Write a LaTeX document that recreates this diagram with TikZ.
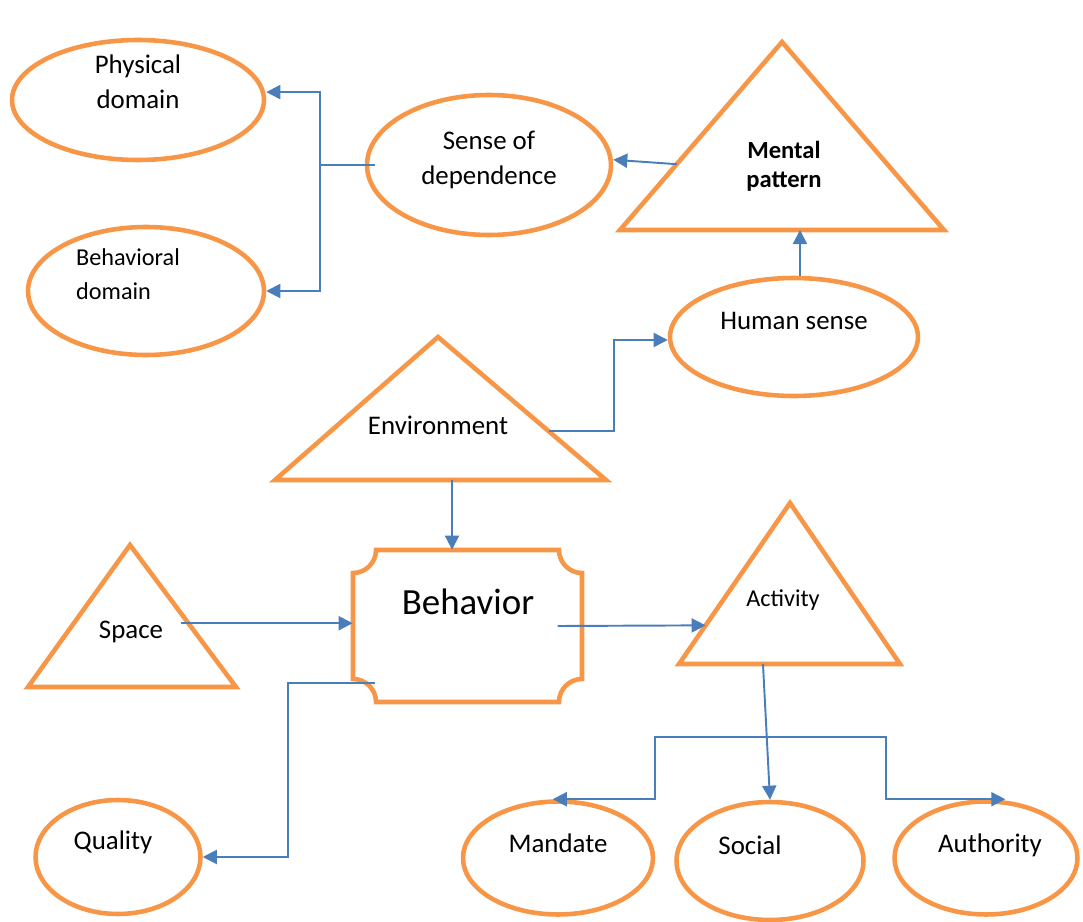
\documentclass[tikz,border=0pt]{standalone}
\usepackage{fontspec}
\setmainfont{Carlito}
\usetikzlibrary{shapes.geometric,arrows.meta,calc}
\definecolor{shapeorange}{HTML}{F79646}
\definecolor{linkblue}{HTML}{4A7EBB}

\begin{document}
\begin{tikzpicture}[x = 0.02cm, y = -0.02cm,
  oval/.style = {ellipse, draw = shapeorange, line width = 2.6pt, inner sep = 0pt},
  tri/.style = {draw = shapeorange, line width = 2.6pt, line join = miter},
  txt/.style = {align = center, font = \fontsize{15.3}{20}\selectfont, inner sep = 0pt},
  small/.style = {align = left, font = \fontsize{13.8}{19}\selectfont, inner sep = 0pt},
  link/.style = {draw = linkblue, line width = 1.1pt},
  arr/.style = {link, -{Triangle[length = 8pt, width = 8pt]}}]

\useasboundingbox (0,0) rectangle (1083,922);

% ellipses
\node[oval, minimum width = 5.04cm, minimum height = 2.4cm] (physical) at (138,100) {};
\node[oval, minimum width = 4.72cm, minimum height = 2.56cm] (behavioral) at (146,291) {};
\node[oval, minimum width = 4.88cm, minimum height = 2.8cm] (sense) at (489,165) {};
\node[oval, minimum width = 4.96cm, minimum height = 2.36cm] (human) at (794,337) {};
\node[oval, minimum width = 3.3cm, minimum height = 2.28cm] (quality) at (118,857) {};
\node[oval, minimum width = 3.8cm, minimum height = 2.26cm] (mandate) at (558,858) {};
\node[oval, minimum width = 3.74cm, minimum height = 2.36cm] (social) at (770,861) {};
\node[oval, minimum width = 3.66cm, minimum height = 2.26cm] (authority) at (986,858) {};

\node[txt] (physicaltxt) at (138,82) {Physical\\domain};
\node[small] (behavioraltxt) at (128,274) {Behavioral\\domain};
\node[txt] (sensetxt) at (489,160) {Sense of\\dependence};
\node[txt] (humantxt) at (794,321) {Human sense};
\node[txt] (qualitytxt) at (113,842) {Quality};
\node[txt] (mandatetxt) at (558,843) {Mandate};
\node[txt] (socialtxt) at (750,845) {Social};
\node[txt] (authoritytxt) at (990,845) {Authority};

% triangles
\coordinate (mentalT) at (782,42);
\coordinate (mentalL) at (620,230);
\coordinate (mentalR) at (944,230);
\draw[tri] (mentalT) -- (mentalR) -- (mentalL) -- cycle;
\node[txt, font = \bfseries\fontsize{14}{16.5}\selectfont] (mental) at (784,166) {Mental\\pattern};

\coordinate (envT) at (438,337);
\coordinate (envL) at (275,480);
\coordinate (envR) at (606,480);
\draw[tri] (envT) -- (envR) -- (envL) -- cycle;
\node[txt] (environment) at (438,425) {Environment};

\coordinate (spaceT) at (130,545);
\coordinate (spaceL) at (28,687);
\coordinate (spaceR) at (236,687);
\draw[tri] (spaceT) -- (spaceR) -- (spaceL) -- cycle;
\node[txt] (space) at (131,632) {Space};

\coordinate (actT) at (790,503);
\coordinate (actL) at (679,664);
\coordinate (actR) at (900,664);
\draw[tri] (actT) -- (actR) -- (actL) -- cycle;
\node[small] (activity) at (783,600) {Activity};

% behavior box
\node[minimum width = 4.58cm, minimum height = 3.04cm, inner sep = 0pt] (behavior) at (467.5,626) {};
\draw[tri] (376,550) -- (559,550) .. controls (559,562.7) and (569.3,573) .. (582,573)
  -- (582,679) .. controls (569.3,679) and (559,689.3) .. (559,702)
  -- (376,702) .. controls (376,689.3) and (365.7,679) .. (353,679)
  -- (353,573) .. controls (365.7,573) and (376,562.7) .. (376,550) -- cycle;
\node[txt, font = \fontsize{21}{24}\selectfont] (behaviortxt) at (468,602) {Behavior};

% connectors
\coordinate (split) at (320,165);
\draw[link] ([xshift = 6pt]sense.west) -- (split);
\draw[arr] (split) |- ([yshift = 4.5pt]physical.east);
\draw[arr] (split) |- (behavioral.east);

\draw[arr] ($(mentalL)!0.35!(mentalT)$) -- ([yshift = 3pt]sense.east);
\draw[arr] ([xshift = 3.4pt]human.north) -- ([xshift = 3.4pt]human.north |- mentalL);

\draw[arr] ($(envT)!0.66!(envR)$) -- ++(65,0) |- ([yshift = -1.7pt]human.west);
\draw[arr] ([xshift = -8.8pt]behavior.north |- envL) -- ([xshift = -8.8pt]behavior.north);

\draw[arr] ([xshift = 10pt, yshift = 5pt]space.east) -- ([yshift = 5pt]space.east -| behavior.west);
\draw[arr] ([xshift = -14pt]behavior.east) -- ($(actL)!0.24!(actT)$);
\draw[arr] ($(behavior.south west)+(22,-19)$) -- ++(-87,0) |- (quality.east);

\coordinate (actB) at ($(actL)!0.38!(actR)$);
\draw[arr] (actB) -- (social.north);
\coordinate (fork) at ($(actB)!0.54!(social.north)$);
\draw[arr] (fork) -- ++(-112,0) |- ([xshift = -3pt]mandate.north);
\draw[arr] (fork) -- ++(119,0) |- ([xshift = 11pt]authority.north);
\end{tikzpicture}
\end{document}
